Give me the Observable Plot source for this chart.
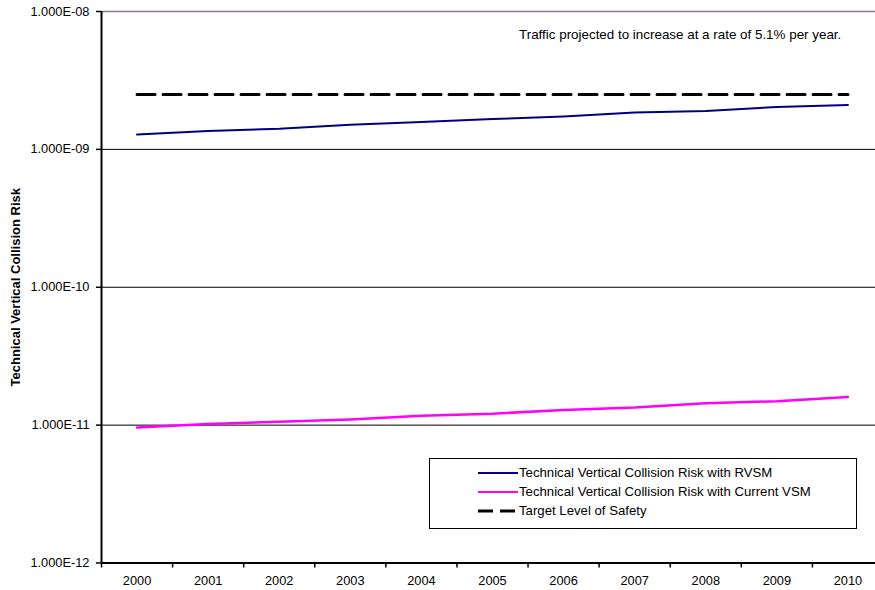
<!DOCTYPE html>
<html>
<head>
<meta charset="utf-8">
<script src="https://cdn.jsdelivr.net/npm/d3@7"></script>
<script src="https://cdn.jsdelivr.net/npm/@observablehq/plot@0.6"></script>
<style>
  body { margin: 0; background: #fff; }
  #wrap { position: relative; width: 875px; height: 590px; overflow: hidden; font-family: "Liberation Sans", Arial, sans-serif; }
  #note { position: absolute; left: 519px; top: 27px; font-size: 13.4px; white-space: nowrap; }
  #legend { position: absolute; left: 429px; top: 458px; width: 428px; height: 71px; border: 1.5px solid #000; box-sizing: border-box; font-size: 13.2px; }
  .row { position: absolute; left: 48px; height: 14px; display: flex; align-items: center; white-space: nowrap; }
  .row svg { margin-right: 1px; }
</style>
</head>
<body>
<div id="wrap"></div>
<script>
const years = [2000, 2001, 2002, 2003, 2004, 2005, 2006, 2007, 2008, 2009, 2010];
const rvsm = [1.28e-9, 1.36e-9, 1.41e-9, 1.51e-9, 1.58e-9, 1.66e-9, 1.73e-9, 1.85e-9, 1.90e-9, 2.03e-9, 2.10e-9];
const currentVsm = [0.96e-11, 1.02e-11, 1.06e-11, 1.10e-11, 1.17e-11, 1.21e-11, 1.29e-11, 1.34e-11, 1.44e-11, 1.49e-11, 1.60e-11];
const tls = [2.5e-9, 2.5e-9, 2.5e-9, 2.5e-9, 2.5e-9, 2.5e-9, 2.5e-9, 2.5e-9, 2.5e-9, 2.5e-9, 2.5e-9];
const yTicks = [1e-12, 1e-11, 1e-10, 1e-9, 1e-8];
const gridVals = [1e-11, 1e-10, 1e-9];
const seriesNames = ["Technical Vertical Collision Risk with RVSM", "Technical Vertical Collision Risk with Current VSM", "Target Level of Safety"];
const seriesColors = ["#000080", "#ff00ff", "#000000"];
const yLabel = "Technical Vertical Collision Risk";
const note = "Traffic projected to increase at a rate of 5.1% per year.";

const rows = years.map((yr, i) => ({ year: yr, rvsm: rvsm[i], vsm: currentVsm[i], tls: tls[i] }));
const boundaries = [years[0] - 0.5, ...years.map(y => y + 0.5)];

const fmt = d => {
  const e = Math.round(Math.log10(d));
  return "1.000E" + (e < 0 ? "-" : "+") + String(Math.abs(e)).padStart(2, "0");
};

const chart = Plot.plot({
  width: 875,
  height: 590,
  marginLeft: 101,
  marginRight: -8,
  marginTop: 11,
  marginBottom: 27.5,
  x: { type: "linear", domain: [years[0] - 0.5, years[years.length - 1] + 0.5] },
  y: { type: "log", domain: [yTicks[0], yTicks[yTicks.length - 1]] },
  style: { fontFamily: "'Liberation Sans', Arial, sans-serif", fontSize: "13px", color: "#000", background: "#fff" },
  marks: [
    Plot.ruleY(gridVals, { stroke: "#000", strokeWidth: 1 }),
    Plot.ruleY([yTicks[yTicks.length - 1]], { stroke: "#8a7a90", strokeWidth: 1.5 }),
    Plot.line(rows, { x: "year", y: "tls", stroke: seriesColors[2], strokeWidth: 3, strokeDasharray: "18,8" }),
    Plot.line(rows, { x: "year", y: "rvsm", stroke: seriesColors[0], strokeWidth: 2 }),
    Plot.line(rows, { x: "year", y: "vsm", stroke: seriesColors[1], strokeWidth: 2.5 }),
    Plot.axisX({ ticks: years, tickSize: 0, tickPadding: 13, tickFormat: d => String(d), label: null, fontSize: "12.8px" }),
    Plot.axisX({ ticks: boundaries, tickSize: 5, tickFormat: () => "", label: null, strokeWidth: 1.5 }),
    Plot.axisY({ ticks: yTicks, tickSize: 5, tickPadding: 7, tickFormat: fmt, label: null, strokeWidth: 1.5, fontSize: "12.8px" }),
    Plot.ruleX([years[0] - 0.5], { stroke: "#000", strokeWidth: 2 }),
    Plot.ruleY([yTicks[0]], { stroke: "#000", strokeWidth: 2 }),
    Plot.text([yLabel], { frameAnchor: "left", textAnchor: "middle", dx: -86, rotate: -90, fontWeight: "bold", fontSize: 13, fill: "#000" })
  ]
});

const wrap = document.getElementById("wrap");
wrap.appendChild(chart);

const noteDiv = document.createElement("div");
noteDiv.id = "note";
noteDiv.textContent = note;
wrap.appendChild(noteDiv);

const legend = document.createElement("div");
legend.id = "legend";
const tops = [6.5, 25.5, 44.5];
seriesNames.forEach((name, i) => {
  const r = document.createElement("div");
  r.className = "row";
  r.style.top = tops[i] + "px";
  const dash = i === 2 ? 'stroke-dasharray="15,7"' : "";
  const sw = i === 2 ? 3 : 2;
  r.innerHTML = `<svg width="40" height="14"><line x1="0" x2="40" y1="7" y2="7" stroke="${seriesColors[i]}" stroke-width="${sw}" ${dash}/></svg><span>${name}</span>`;
  legend.appendChild(r);
});
wrap.appendChild(legend);
</script>
</body>
</html>
